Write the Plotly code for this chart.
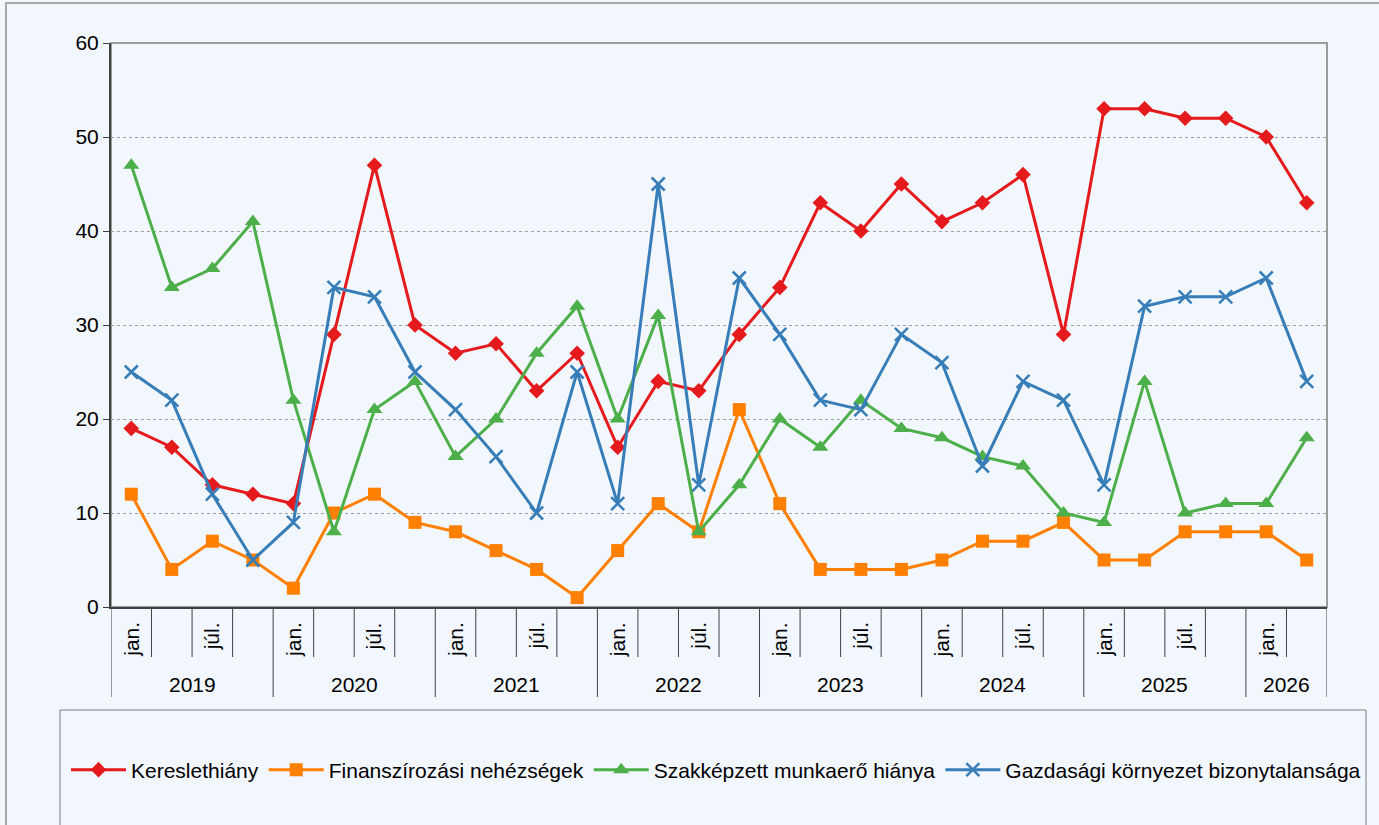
import plotly.graph_objects as go

years = ["2019", "2020", "2021", "2022", "2023", "2024", "2025", "2026"]
month_labels = ["jan.", "", "júl.", ""]
n_per_year = [4, 4, 4, 4, 4, 4, 4, 2]

kereslet = [19, 17, 13, 12, 11, 29, 47, 30, 27, 28, 23, 27, 17, 24, 23, 29, 34, 43, 40, 45,
            41, 43, 46, 29, 53, 53, 52, 52, 50, 43]
finansz = [12, 4, 7, 5, 2, 10, 12, 9, 8, 6, 4, 1, 6, 11, 8, 21, 11, 4, 4, 4,
           5, 7, 7, 9, 5, 5, 8, 8, 8, 5]
szakk = [47, 34, 36, 41, 22, 8, 21, 24, 16, 20, 27, 32, 20, 31, 8, 13, 20, 17, 22, 19,
         18, 16, 15, 10, 9, 24, 10, 11, 11, 18]
gazd = [25, 22, 12, 5, 9, 34, 33, 25, 21, 16, 10, 25, 11, 45, 13, 35, 29, 22, 21, 29,
        26, 15, 24, 22, 13, 32, 33, 33, 35, 24]

series = [
    ("Kereslethiány", kereslet, "#E41A1C", "diamond", 12),
    ("Finanszírozási nehézségek", finansz, "#FF7F00", "square", 13),
    ("Szakképzett munkaerő hiánya", szakk, "#4DAF4A", "triangle-up", 14),
    ("Gazdasági környezet bizonytalansága", gazd, "#377EB8", "x-thin", 13),
]

W, H = 1379, 825
L, R, T, B = 111, 1327, 43, 607
pw, ph = R - L, B - T

def py(pix):
    return (B - pix) / ph

def px(pix):
    return (pix - L) / pw

x_idx = list(range(len(kereslet)))
bg = "#F2F6FD"
FONT = "Liberation Sans, Arial, sans-serif"

fig = go.Figure()
for name, vals, col, sym, sz in series:
    mk = dict(symbol=sym, size=sz, color=col)
    if sym == "x-thin":
        mk["line"] = dict(color=col, width=2.5)
    fig.add_trace(go.Scatter(x=x_idx, y=vals, name=name, mode="lines+markers",
                             line=dict(color=col, width=3), marker=mk))

shapes = []
annotations = []
# frame of plot area
shapes.append(dict(type="rect", xref="paper", yref="paper", x0=0, x1=1, y0=0, y1=1,
                   line=dict(color="#9A9A9A", width=2), layer="below"))
# outer border
shapes.append(dict(type="rect", xref="paper", yref="paper", x0=px(6), x1=px(1400), y0=py(860), y1=py(3),
                   line=dict(color="#A8A8A8", width=2), layer="below"))
# legend box
shapes.append(dict(type="rect", xref="paper", yref="paper", x0=px(60), x1=px(1366), y0=py(860), y1=py(710),
                   line=dict(color="#7F7F7F", width=1), fillcolor=bg, layer="below"))

# category separators and labels
pos = 0
for yr, n in zip(years, n_per_year):
    shapes.append(dict(type="line", xref="x", yref="paper", x0=pos - 0.5, x1=pos - 0.5,
                       y0=0, y1=py(697), line=dict(color="#404040", width=1)))
    for k in range(n):
        i = pos + k
        if k > 0:
            shapes.append(dict(type="line", xref="x", yref="paper", x0=i - 0.5, x1=i - 0.5,
                               y0=0, y1=py(657), line=dict(color="#404040", width=1)))
        if month_labels[k]:
            annotations.append(dict(x=i, y=py(620), xref="x", yref="paper", text=month_labels[k],
                                    textangle=-90, showarrow=False, xanchor="center", yanchor="top",
                                    font=dict(size=21, color="#000000", family=FONT)))
    annotations.append(dict(x=pos + (n - 1) / 2, y=py(684), xref="x", yref="paper", text=yr,
                            showarrow=False, xanchor="center", yanchor="middle",
                            font=dict(size=21, color="#000000", family=FONT)))
    pos += n
shapes.append(dict(type="line", xref="x", yref="paper", x0=pos - 0.5, x1=pos - 0.5,
                   y0=0, y1=py(697), line=dict(color="#404040", width=1)))

fig.update_layout(
    width=W, height=H,
    margin=dict(l=L, r=W - R, t=T, b=H - B),
    paper_bgcolor=bg, plot_bgcolor=bg,
    font=dict(family=FONT, size=21, color="#000000"),
    xaxis=dict(range=[-0.5, len(x_idx) - 0.5], showticklabels=False, showgrid=False,
               zeroline=False, showline=True, linecolor="#404040", linewidth=2, ticks=""),
    yaxis=dict(range=[0, 60], dtick=10, showgrid=True, gridcolor="#A0A0A0", griddash="dot",
               gridwidth=1, zeroline=False, showline=True, linecolor="#404040", linewidth=2,
               ticks="outside", ticklen=6, tickcolor="#404040",
               tickfont=dict(size=21, color="#000000")),
    legend=dict(orientation="h", x=px(66), xanchor="left", y=py(770), yanchor="middle",
                bgcolor="rgba(0,0,0,0)", font=dict(size=21), itemwidth=55,
                tracegroupgap=0),
    shapes=shapes,
    annotations=annotations,
    showlegend=True,
)

fig.write_html("out.html", config={"displayModeBar": False},
               post_script="document.body.style.margin='0';document.body.style.overflow='hidden';document.body.style.background='" + bg + "';")
